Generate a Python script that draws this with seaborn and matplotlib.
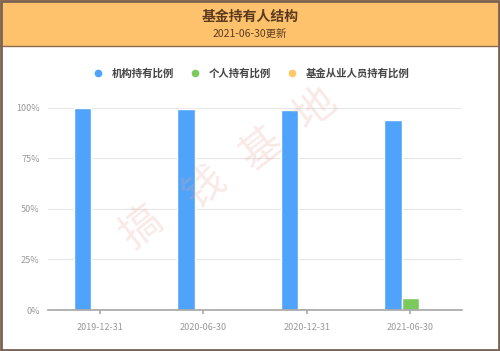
import matplotlib
matplotlib.use("Agg")
import matplotlib.pyplot as plt
import seaborn as sns
import numpy as np
import pandas as pd
from matplotlib.patches import Rectangle
from matplotlib.lines import Line2D
from matplotlib.ticker import PercentFormatter

# data
dates = ["2019-12-31", "2020-06-30", "2020-12-31", "2021-06-30"]
series_names = ["机构持有比例", "个人持有比例", "基金从业人员持有比例"]
institution = [99.9, 99.3, 98.8, 93.9]
individual = [0.05, 0.6, 1.0, 5.9]
employee = [0.0, 0.0, 0.0, 0.0]
colors = ["#4fa3fb", "#7cc95e", "#fdc867"]

df = pd.DataFrame({
    "date": dates * 3,
    "kind": [series_names[0]] * 4 + [series_names[1]] * 4 + [series_names[2]] * 4,
    "value": institution + individual + employee,
})

sns.set_theme(style="white")
plt.rcParams["font.family"] = ["Noto Sans CJK SC", "DejaVu Sans"]

W, H = 500, 351
fig = plt.figure(figsize=(5, 3.51), dpi=100)

# header band and frame
fig.patches.append(Rectangle((0, 1 - 46 / H), 1, 46 / H, transform=fig.transFigure,
                             facecolor="#fec26c", edgecolor="none", zorder=0))
fig.patches.append(Rectangle((0.002, 0.003), 0.996, 0.994, transform=fig.transFigure,
                             facecolor="none", edgecolor="#7a6352", lw=2, zorder=5))
fig.lines.append(Line2D([0, 1], [1 - 46 / H] * 2, transform=fig.transFigure,
                        color="#8a6a50", lw=1))
fig.text(0.5, 1 - 17 / H, "基金持有人结构", ha="center", va="center",
         fontsize=10, fontweight="bold", color="#5b3a1e")
fig.text(0.5, 1 - 34 / H, "2021-06-30更新", ha="center", va="center",
         fontsize=7.5, color="#5b3a1e")

ax = fig.add_axes([48 / W, 1 - 310 / H, 414 / W, (310 - 107.5) / H])
sns.barplot(data=df, x="date", y="value", hue="kind", palette=colors,
            width=0.5, saturation=1, ax=ax, legend=False)

ax.set_ylim(0, 100)
ax.set_xlim(-0.5, 3.5)
ax.set_yticks([0, 25, 50, 75, 100])
ax.yaxis.set_major_formatter(PercentFormatter(decimals=0))
ax.set_xlabel("")
ax.set_ylabel("")
for s in ["top", "right", "left"]:
    ax.spines[s].set_visible(False)
ax.spines["bottom"].set_color("#aaaaaa")
ax.yaxis.grid(True, color="#e6e6e6", lw=0.8)
ax.set_axisbelow(True)
ax.tick_params(axis="y", length=0, labelsize=6.5, labelcolor="#999999", pad=6)
ax.tick_params(axis="x", length=3, color="#aaaaaa", labelsize=6.5,
               labelcolor="#999999", pad=6, bottom=True)

# legend
handles = [Line2D([], [], marker="o", ls="", markersize=4.5, color=c) for c in colors]
fig.legend(handles, series_names, loc="center", bbox_to_anchor=(0.497, 1 - 73 / H),
           ncol=3, frameon=False, handletextpad=0.3, columnspacing=1.0,
           prop={"size": 7.5, "weight": "bold"}, labelcolor="#444444")

# watermark
for ch, (x, y) in zip("搞钱基地", [(142, 228), (205, 188), (262, 150), (316, 110)]):
    fig.text(x / W, 1 - y / H, ch, ha="center", va="center", fontsize=30,
             rotation=38, color="#e8a8a0", alpha=0.25)

fig.savefig("out.png", dpi=100)
